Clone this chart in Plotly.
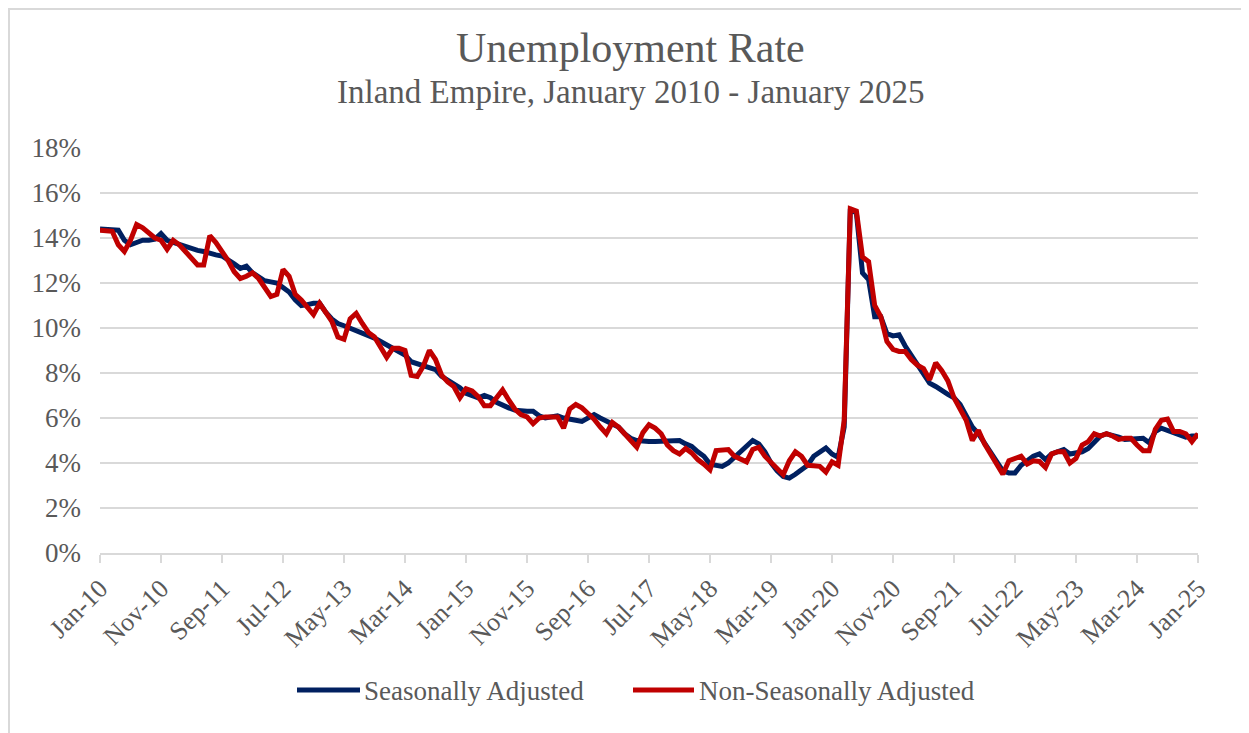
import plotly.graph_objects as go

months = ["Jan", "Feb", "Mar", "Apr", "May", "Jun", "Jul", "Aug", "Sep", "Oct", "Nov", "Dec"]
labels = [f"{months[i % 12]}-{10 + i // 12:02d}" for i in range(181)]

seasonally_adjusted = [
    14.4, 14.4, 14.4, 14.35, 13.9, 13.7, 13.8, 13.9, 13.9, 13.95, 14.2, 13.9,
    13.8, 13.7, 13.65, 13.55, 13.45, 13.4, 13.3, 13.25, 13.2, 13.05, 12.85, 12.65,
    12.75, 12.45, 12.3, 12.1, 12.05, 12.0, 11.8, 11.6, 11.25, 11.0, 11.04, 11.1,
    11.1, 10.7, 10.4, 10.2, 10.1, 10.0, 9.85, 9.75, 9.65, 9.55, 9.4, 9.26,
    9.1, 9.0, 8.8, 8.5, 8.4, 8.3, 8.25, 8.15, 7.85, 7.7, 7.55, 7.35,
    7.1, 7.0, 6.9, 7.0, 6.9, 6.7, 6.55, 6.45, 6.35, 6.3, 6.3, 6.3,
    6.1, 6.0, 6.05, 6.1, 6.0, 5.93, 5.9, 5.85, 6.0, 6.15, 6.0, 5.85,
    5.75, 5.6, 5.3, 5.1, 5.0, 4.96, 4.96, 4.96, 4.96, 4.96, 5.0, 5.0,
    4.85, 4.74, 4.5, 4.3, 3.95, 3.88, 3.85, 4.0, 4.25, 4.5, 4.75, 5.0,
    4.85, 4.5, 4.0, 3.65, 3.4, 3.33, 3.5, 3.7, 3.9, 4.3, 4.5, 4.67,
    4.4, 4.25, 5.6, 15.3, 15.1, 12.45, 12.15, 10.5, 10.5, 9.75, 9.65, 9.7,
    9.2, 8.8, 8.4, 8.0, 7.55, 7.4, 7.2, 7.05, 6.9, 6.6, 6.1, 5.6,
    5.3, 4.9, 4.5, 4.1, 3.65, 3.56, 3.56, 3.9, 4.1, 4.3, 4.4, 4.15,
    4.4, 4.5, 4.6, 4.4, 4.45, 4.5, 4.65, 4.9, 5.2, 5.3, 5.25, 5.15,
    5.05, 5.05, 5.1, 5.1, 4.9, 5.4, 5.55, 5.45, 5.4, 5.3, 5.15, 5.2,
    5.2,
]

non_seasonally_adjusted = [
    14.35, 14.35, 14.3, 13.7, 13.4, 13.9, 14.6, 14.45, 14.2, 14.0, 13.9, 13.5,
    13.9, 13.7, 13.4, 13.1, 12.8, 12.8, 14.1, 13.8, 13.4, 13.0, 12.5, 12.2,
    12.3, 12.45, 12.2, 11.8, 11.4, 11.5, 12.6, 12.3, 11.5, 11.25, 10.9, 10.6,
    11.1, 10.7, 10.3, 9.6, 9.5, 10.4, 10.65, 10.2, 9.8, 9.6, 9.1, 8.7,
    9.1, 9.1, 9.0, 7.9, 7.85, 8.3, 9.0, 8.6, 7.9, 7.6, 7.4, 6.9,
    7.3, 7.2, 6.95, 6.55, 6.55, 6.9, 7.25, 6.8, 6.4, 6.15, 6.05, 5.75,
    6.0, 6.05, 6.05, 6.05, 5.55, 6.4, 6.6, 6.45, 6.2, 5.95, 5.6, 5.3,
    5.8, 5.6, 5.3, 5.0, 4.7, 5.35, 5.7, 5.55, 5.3, 4.8, 4.55, 4.4,
    4.65, 4.45, 4.15, 3.95, 3.7, 4.55, 4.6, 4.6, 4.3, 4.15, 4.05, 4.6,
    4.7, 4.3, 4.05, 3.8, 3.48, 4.1, 4.5, 4.3, 3.9, 3.88, 3.85, 3.6,
    4.05, 3.9, 5.9, 15.3, 15.2, 13.15, 12.95, 11.0, 10.5, 9.4, 9.05, 8.96,
    8.96, 8.6, 8.35, 8.2, 7.7, 8.45, 8.1, 7.65, 6.9, 6.4, 5.9, 5.0,
    5.45, 4.85, 4.4, 3.95, 3.5, 4.1, 4.2, 4.3, 3.95, 4.1, 4.07, 3.8,
    4.4, 4.5, 4.5, 4.0, 4.2, 4.8, 4.95, 5.3, 5.2, 5.3, 5.2, 5.05,
    5.1, 5.1, 4.8, 4.55, 4.55, 5.5, 5.9, 5.95, 5.4, 5.4, 5.3, 4.95,
    5.3,
]

series_names = ["Seasonally Adjusted", "Non-Seasonally Adjusted"]
series_colors = ["#002060", "#C00000"]
tick_labels = labels[::10]
y_ticks = [0, 2, 4, 6, 8, 10, 12, 14, 16, 18]

assert len(seasonally_adjusted) == 181 and len(non_seasonally_adjusted) == 181

FONT = "Liberation Serif"
GRAY = "#595959"

# figure is placed with an 8px page margin; plot area spans 1098 x 405 px
L, T, PW, PH = 92, 140, 1098, 405


def px(fx):
    return (fx - L) / PW


def py(fy):
    return (T + PH - fy) / PH


fig = go.Figure()
for name, color, values in zip(series_names, series_colors,
                               [seasonally_adjusted, non_seasonally_adjusted]):
    fig.add_trace(go.Scatter(
        x=labels, y=values, mode="lines", name=name,
        line=dict(color=color, width=5), showlegend=False,
    ))

# legend drawn manually (long line keys like the reference)
legend_key_x = [(289, 352), (625, 686)]
legend_text_x = [354, 689]
legend_y = 682

shapes = [
    dict(type="line", xref="paper", yref="paper",
         x0=px(1), x1=px(1), y0=py(0), y1=py(740),
         line=dict(color="#d9d9d9", width=2)),
    dict(type="line", xref="paper", yref="paper",
         x0=px(0), x1=px(1260), y0=py(1), y1=py(1),
         line=dict(color="#d9d9d9", width=2)),
]
annotations = [
    dict(text="Unemployment Rate", xref="paper", yref="paper",
         x=px(622), y=py(40), xanchor="center", yanchor="middle",
         showarrow=False, font=dict(family=FONT, size=42, color=GRAY)),
    dict(text="Inland Empire, January 2010 - January 2025", xref="paper", yref="paper",
         x=px(622), y=py(84), xanchor="center", yanchor="middle",
         showarrow=False, font=dict(family=FONT, size=33, color=GRAY)),
]
for name, color, (k0, k1), tx in zip(series_names, series_colors, legend_key_x, legend_text_x):
    shapes.append(dict(type="line", xref="paper", yref="paper",
                       x0=px(k0), x1=px(k1), y0=py(legend_y), y1=py(legend_y),
                       line=dict(color=color, width=5)))
    annotations.append(dict(text=name, xref="paper", yref="paper",
                            x=px(tx), y=py(legend_y + 1), xanchor="left", yanchor="middle",
                            showarrow=False, font=dict(family=FONT, size=27, color=GRAY)))

fig.update_layout(
    width=1241, height=725,
    paper_bgcolor="white", plot_bgcolor="white",
    margin=dict(l=L, r=1241 - L - PW, t=T, b=725 - T - PH),
    font=dict(family=FONT, color=GRAY),
    showlegend=False,
    xaxis=dict(
        type="category", range=[0, 180],
        tickmode="array", tickvals=tick_labels, ticktext=tick_labels,
        tickangle=-45, tickfont=dict(family=FONT, size=26, color=GRAY),
        showgrid=False, showline=True, linecolor="#d9d9d9", linewidth=2,
        ticks="outside", ticklen=8, tickcolor="#d9d9d9", tickwidth=2,
    ),
    yaxis=dict(
        range=[0, 18], tickvals=y_ticks, ticktext=[f"{v}%" for v in y_ticks],
        tickfont=dict(family=FONT, size=27, color=GRAY),
        showgrid=True, gridcolor="#d9d9d9", gridwidth=2,
        zeroline=False, showline=False, ticks="", ticklabelstandoff=18,
    ),
    annotations=annotations,
    shapes=shapes,
)

fig.write_html("out.html")
